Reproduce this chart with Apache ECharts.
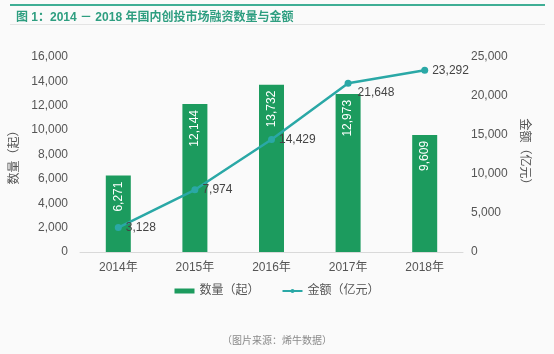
<!DOCTYPE html>
<html>
<head>
<meta charset="utf-8">
<script src="https://cdn.jsdelivr.net/npm/echarts@6/dist/echarts.min.js"></script>
<style>
  html,body{margin:0;padding:0;background:#fafafa;}
  #chart{width:554px;height:354px;}
</style>
</head>
<body>
<div id="chart"></div>
<script>
const years = ["2014年","2015年","2016年","2017年","2018年"];
const counts = [6271, 12144, 13732, 12973, 9609];
const amounts = [3128, 7974, 14429, 21648, 23292];

const FONT = '"Liberation Sans", "Noto Sans CJK SC", sans-serif';
const fmt = (v) => Number(v).toLocaleString("en-US");

const chart = echarts.init(document.getElementById("chart"));
chart.setOption({
  backgroundColor: "#fafafa",
  textStyle: { fontFamily: FONT },
  title: {
    text: "图 1：2014 － 2018 年国内创投市场融资数量与金额",
    left: 11, top: 7,
    textStyle: { color: "#2e9e80", fontSize: 12, fontWeight: "bold", fontFamily: FONT }
  },
  graphic: [
    { type: "rect", shape: { x: 10, y: 4, width: 535, height: 2 }, style: { fill: "#3fae95" } },
    { type: "rect", shape: { x: 10, y: 24, width: 535, height: 1 }, style: { fill: "#e4e4e4" } },
    { type: "text", left: "center", top: 336,
      style: { text: "（图片来源：烯牛数据）", fill: "#8a8a8a", fontSize: 10, fontFamily: FONT } }
  ],
  legend: {
    top: 280, left: "center",
    itemGap: 22,
    textStyle: { color: "#555", fontSize: 12 },
    data: [
      { name: "数量（起）", icon: "rect", itemStyle: { color: "#1c9b5e" } },
      { name: "金额（亿元）" }
    ],
    itemWidth: 20, itemHeight: 5
  },
  grid: { left: 80, right: 91, top: 57, bottom: 102 },
  xAxis: {
    type: "category",
    data: years,
    axisTick: { show: false },
    axisLine: { lineStyle: { color: "#d9d9d9" } },
    axisLabel: { color: "#555", fontSize: 12, margin: 10 }
  },
  yAxis: [
    {
      type: "value", min: 0, max: 16000, interval: 2000,
      name: "数量（起）", nameLocation: "middle", nameGap: 56, nameRotate: 90,
      nameTextStyle: { color: "#555", fontSize: 12 },
      splitLine: { show: false },
      axisLabel: { color: "#555", fontSize: 12, formatter: fmt, margin: 12 }
    },
    {
      type: "value", min: 0, max: 25000, interval: 5000,
      name: "金额（亿元）", nameLocation: "middle", nameGap: 50, nameRotate: -90,
      nameTextStyle: { color: "#555", fontSize: 12 },
      splitLine: { show: false },
      axisLabel: { color: "#555", fontSize: 12, formatter: fmt, margin: 8 }
    }
  ],
  series: [
    {
      name: "数量（起）", type: "bar", data: counts, barWidth: 25,
      itemStyle: { color: "#1c9b5e" },
      label: {
        show: true, position: "insideTop", rotate: 90, align: "right", verticalAlign: "middle",
        distance: 6, color: "#fff", fontSize: 12, formatter: (p) => fmt(p.value)
      }
    },
    {
      name: "金额（亿元）", type: "line", yAxisIndex: 1,
      data: amounts.map((v, i) => i === 3 ? { value: v, label: { offset: [2, 10] } } : v),
      symbol: "circle", symbolSize: 7,
      lineStyle: { color: "#2aa8a6", width: 2.5 },
      itemStyle: { color: "#2aa8a6" },
      label: {
        show: true, position: "right", distance: 4, color: "#444", fontSize: 12,
        formatter: (p) => fmt(p.value)
      }
    }
  ]
});
</script>
</body>
</html>
